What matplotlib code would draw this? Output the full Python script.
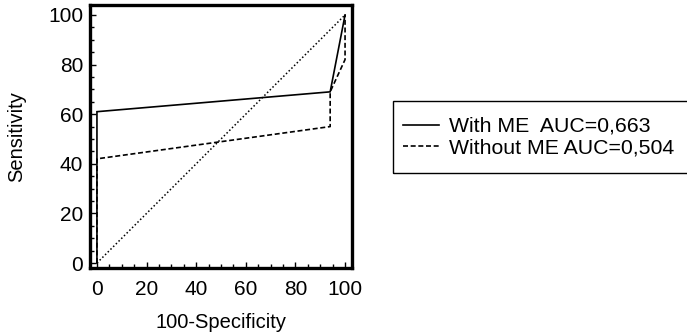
import numpy as np
import matplotlib
matplotlib.use("Agg")
import matplotlib.pyplot as plt
from matplotlib.patches import Rectangle
from matplotlib.ticker import MultipleLocator

plt.rcParams['font.family'] = ['Liberation Sans', 'DejaVu Sans']

# ROC punkty (100-Specificity, Sensitivity)
with_x = [0, 0, 94, 100]
with_y = [0, 61, 69, 100]
without_x = [0, 0, 94, 94, 100, 100]
without_y = [0, 42, 55, 69, 82, 100]
diag_x = [0, 100]
diag_y = [0, 100]
labels = ['With ME  AUC=0,663', 'Without ME AUC=0,504']

fig = plt.figure(figsize=(6.87, 3.32), dpi=100)
ax = fig.add_axes([90/687, 1-268/332, 262/687, 263/332])

l1, = ax.plot(with_x, with_y, color='black', lw=1.2, solid_joinstyle='miter')
l2, = ax.plot(without_x, without_y, color='black', lw=1.2, linestyle=(0, (3, 1.6)))
ax.plot(diag_x, diag_y, color='black', lw=1.1, linestyle=(0, (1, 1.5)))

ax.set_xlim(-2.8, 102.8)
ax.set_ylim(-2.0, 104)
ax.xaxis.set_major_locator(MultipleLocator(20))
ax.yaxis.set_major_locator(MultipleLocator(20))
ax.xaxis.set_minor_locator(MultipleLocator(5))
ax.yaxis.set_minor_locator(MultipleLocator(5))
ax.tick_params(which='both', direction='in', width=1.0, labelsize=15)
ax.tick_params(which='major', length=4)
ax.tick_params(which='minor', length=3)
ax.tick_params(axis='y', pad=5)
ax.tick_params(axis='x', pad=8.5)
for s in ax.spines.values():
    s.set_linewidth(2.4)

ax.set_xlabel('100-Specificity', fontsize=14.5, labelpad=10)
ax.set_ylabel('Sensitivity', fontsize=14.5, labelpad=16)

# ramka legendy (ucieta z prawej strony)
fig.patches.append(Rectangle((393/687, 1-173/332), 310/687, 72/332,
                             transform=fig.transFigure, fill=False,
                             edgecolor='black', lw=1.0))
fig.legend([l1, l2], labels, loc='center left',
           bbox_to_anchor=(388/687, 1-137/332), frameon=False,
           fontsize=15.3, handlelength=1.7, handletextpad=0.45,
           labelspacing=0.1, borderpad=0.2)

fig.savefig('out.png', dpi=100)
